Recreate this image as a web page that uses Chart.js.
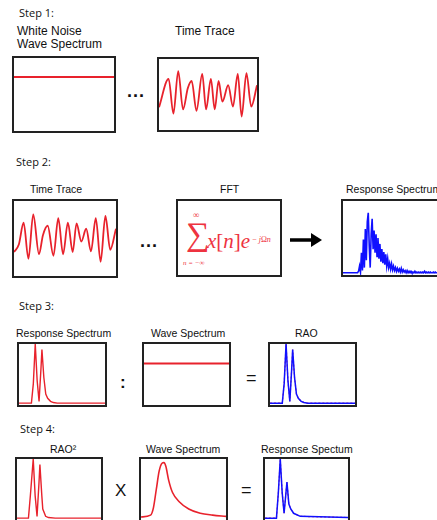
<!DOCTYPE html>
<html>
<head>
<meta charset="utf-8">
<script src="https://cdn.jsdelivr.net/npm/chart.js@4"></script>
<style>
body{margin:0;width:437px;height:520px;overflow:hidden;position:relative;background:#fff;font-family:"Liberation Sans",Arial,sans-serif;color:#111;}
.t{position:absolute;white-space:nowrap;line-height:12px;font-size:10.5px;}
.step{font-family:"Open Sans","Noto Sans",sans-serif;font-size:11px;}
.big{font-size:12px;}
.box{position:absolute;border:2px solid #222;box-sizing:border-box;background:#fff;}
.box canvas{display:block;}
.dots{position:absolute;font-weight:bold;font-size:18px;line-height:12px;letter-spacing:1px;}
.op{position:absolute;line-height:18px;}
.f{position:absolute;white-space:nowrap;font-family:"Liberation Serif","DejaVu Serif",serif;color:#ee3340;}
</style>
</head>
<body>

<div class="t step" style="left:19px;top:7px">Step 1:</div>
<div class="t big" style="left:17px;top:25px">White Noise</div>
<div class="t big" style="left:17px;top:38px">Wave Spectrum</div>
<div class="t big" style="left:175px;top:25px">Time Trace</div>
<div class="box" style="left:12px;top:56px;width:104px;height:77px"><canvas id="s1wave"></canvas></div>
<div class="dots" style="left:127px;top:85px">...</div>
<div class="box" style="left:157px;top:57px;width:102px;height:75px"><canvas id="s1trace"></canvas></div>

<div class="t step" style="left:16px;top:156px">Step 2:</div>
<div class="t" style="left:30px;top:183px">Time Trace</div>
<div class="t" style="left:220px;top:183px">FFT</div>
<div class="t" style="left:346px;top:183px">Response Spectrum</div>
<div class="box" style="left:12px;top:199px;width:106px;height:79px"><canvas id="s2trace"></canvas></div>
<div class="dots" style="left:140px;top:235px">...</div>
<div class="box" style="left:176px;top:199px;width:106px;height:78px"></div>
<div class="f" style="left:193px;top:210px;font-size:9px">∞</div>
<div class="f" style="left:186px;top:217px;font-size:33px;line-height:34px">∑</div>
<div class="f" style="left:183px;top:259px;font-size:7px;font-style:italic">n = −∞</div>
<div class="f" style="left:207px;top:229px;font-size:21px;line-height:24px"><i>x</i>[<i>n</i>]<i>e</i><span style="font-size:8px;position:relative;top:-6px"> − <i>j</i>Ω<i>n</i></span></div>
<svg style="position:absolute;left:288px;top:230px" width="40" height="20">
  <line x1="2" y1="10" x2="26" y2="10" stroke="#000" stroke-width="3.5"/>
  <polygon points="23,3 34,10 23,17" fill="#000"/>
</svg>
<div class="box" style="left:341px;top:199px;width:106px;height:78px"><canvas id="s2resp"></canvas></div>

<div class="t step" style="left:19px;top:300px">Step 3:</div>
<div class="t" style="left:16px;top:327px">Response Spectrum</div>
<div class="t" style="left:151px;top:327px">Wave Spectrum</div>
<div class="t" style="left:295px;top:327px">RAO</div>
<div class="box" style="left:17px;top:342px;width:90px;height:65px"><canvas id="s3resp"></canvas></div>
<div class="op" style="left:120px;top:374px;font-size:17px;font-weight:bold">:</div>
<div class="box" style="left:142px;top:342px;width:89px;height:65px"><canvas id="s3wave"></canvas></div>
<div class="op" style="left:246px;top:369px;font-size:18px">=</div>
<div class="box" style="left:268px;top:342px;width:89px;height:65px"><canvas id="s3rao"></canvas></div>

<div class="t step" style="left:20px;top:423px">Step 4:</div>
<div class="t" style="left:50px;top:443px">RAO²</div>
<div class="t" style="left:146px;top:443px">Wave Spectrum</div>
<div class="t" style="left:261px;top:443px">Response Spectum</div>
<div class="box" style="left:15px;top:457px;width:88px;height:65px"><canvas id="s4rao2"></canvas></div>
<div class="op" style="left:115px;top:482px;font-size:17px">X</div>
<div class="box" style="left:139px;top:457px;width:89px;height:65px"><canvas id="s4wave"></canvas></div>
<div class="op" style="left:241px;top:481px;font-size:18px">=</div>
<div class="box" style="left:263px;top:457px;width:87px;height:65px"><canvas id="s4resp"></canvas></div>

<script>
// values as % of box height, x in box-relative units
let whiteNoiseS1 = [74, 74];
let whiteNoiseS3 = [68, 68];
let flatX = [0, 100];

let trace1X = [0,10,15,20,25,30,34,39,45,49,54,58,62,66,72,77,82,86,91,96,102];
let trace1Y = [32,72,23,83,29,59,69,27,79,29,72,29,69,40,63,33,79,19,80,33,63];

let trace2X = [0,5,10,15,20,26,30,35,41,46,51,56,61,65,70,75,80,85,90,95,100,106];
let trace2Y = [32,42,71,23,82,29,54,67,27,77,29,71,32,70,46,63,33,77,19,80,35,63];

let fftResp = [3,3,3,3,3,3,3,3,3,3,3,3,3,3,3,3,
  5,12,4,30,6,48,10,62,20,72,84,40,10,55,76,35,60,30,55,25,
  50,22,42,18,35,16,31,14,28,12,22,10,16,8,15,7,12,6,10,5,
  9,5,8,4,9,4,7,4,6,3,6,3,5,3,5,3,4,3,5,3,4,3,4,3,4,3,4,3,5,3,
  4,3,4,3,4,3,3,4,3,4,3,3,4,3,3,4,3,3,3,3];

let respS3X = [0,13,15,17,19,21,23,24,26,28,30,33,36,40,90];
let respS3Y = [3,3,35,100,40,6,60,91,45,18,11,6,4,3,3];

let raoX = [0,13,15,17,19,21,23,24,26,28,30,33,36,40,90];
let raoY = [3,3,35,100,40,6,60,91,45,18,11,6,4,3,3];

let rao2X = [0,12,14,17,19,21,23,24,26,27,30,33,40,88];
let rao2Y = [3,3,40,100,40,6,60,91,40,18,6,4,3,3];

let waveS4X = [0,10,13,16,19,22,24,26,29,33,40,50,62,75,89];
let waveS4Y = [5,8,20,50,80,93,94,88,65,45,30,18,11,8,6];

let respS4X = [0,12,14,16,18,20,22,23,25,27,30,37,87];
let respS4Y = [3,3,45,100,45,11,45,62,26,18,11,6,4];

const RED = '#e8222c';
const BLUE = '#1010ff';

function pts(xs, ys){ return xs.map((x, i) => ({x: x, y: ys[i]})); }

function mini(id, sets, xmax){
  new Chart(document.getElementById(id), {
    type: 'line',
    data: { datasets: sets },
    options: {
      animation: false,
      responsive: true,
      maintainAspectRatio: false,
      layout: { padding: 0 },
      plugins: { legend: { display: false }, tooltip: { enabled: false } },
      scales: {
        x: { type: 'linear', display: false, min: 0, max: xmax },
        y: { display: false, min: 0, max: 100 }
      },
      elements: { point: { radius: 0 } }
    }
  });
}

function red(data, w, smooth){
  return { data: data, borderColor: RED, borderWidth: w, tension: 0,
    cubicInterpolationMode: smooth ? 'monotone' : 'default' };
}

// blue line with a red dashed copy on top
function mixed(data){
  return [
    { data: data, borderColor: BLUE, borderWidth: 1.5, tension: 0 },
    { data: data, borderColor: 'rgba(235,40,60,0.85)', borderWidth: 1.2, borderDash: [2, 2], tension: 0 }
  ];
}

mini('s1wave', [red(pts(flatX, whiteNoiseS1), 2)], 100);
mini('s1trace', [red(pts(trace1X, trace1Y), 1.8, true)], 102);
mini('s2trace', [red(pts(trace2X, trace2Y), 1.8, true)], 106);
mini('s2resp', [{ data: pts(fftResp.map((v, i) => i), fftResp), borderColor: BLUE, borderWidth: 1.6, tension: 0 }], 105);

mini('s3resp', [red(pts(respS3X, respS3Y), 1.4)], 90);
mini('s3wave', [red(pts(flatX, whiteNoiseS3), 1.8)], 100);
mini('s3rao', mixed(pts(raoX, raoY)), 90);

mini('s4rao2', [red(pts(rao2X, rao2Y), 1.4)], 88);
mini('s4wave', [red(pts(waveS4X, waveS4Y), 1.6, true)], 89);
mini('s4resp', mixed(pts(respS4X, respS4Y)), 87);
</script>
</body>
</html>
